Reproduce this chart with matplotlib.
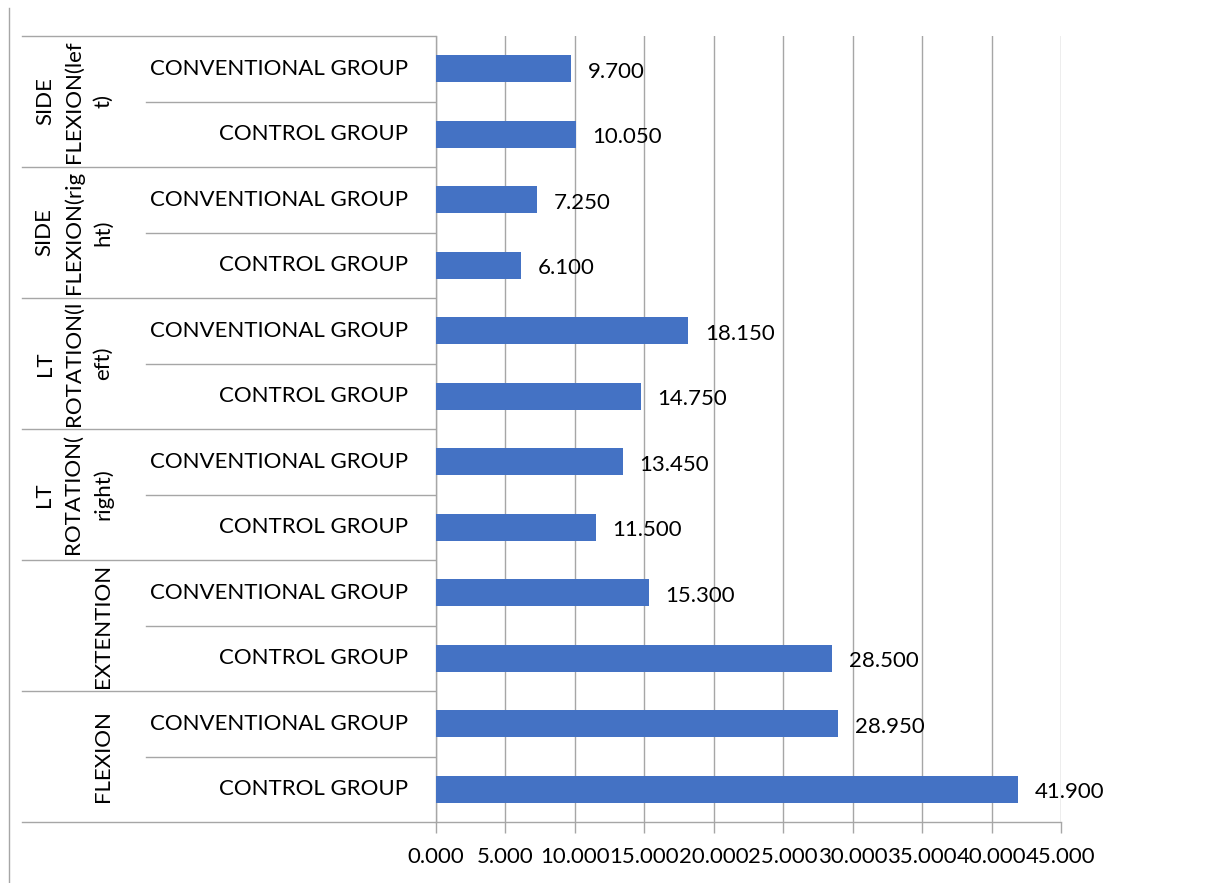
import matplotlib
matplotlib.use("Agg")
import matplotlib.pyplot as plt
from matplotlib.transforms import blended_transform_factory
from matplotlib.lines import Line2D

# ---- data (bottom to top) ----
groups = ["FLEXION", "EXTENTION", "LT\nROTATION(\nright)", "LT\nROTATION(l\neft)",
          "SIDE\nFLEXION(rig\nht)", "SIDE\nFLEXION(lef\nt)"]
subcats = ["CONTROL GROUP", "CONVENTIONAL GROUP"]
values = [41.900, 28.950, 28.500, 15.300, 11.500, 13.450,
          14.750, 18.150, 6.100, 7.250, 10.050, 9.700]
xticks = [0, 5, 10, 15, 20, 25, 30, 35, 40, 45]

FONT = "Lato"
FS = 16
W, H = 1217, 883
fig = plt.figure(figsize=(W / 100, H / 100), dpi=100)
ax = fig.add_axes([436 / W, (H - 822) / H, 625 / W, 786 / H])

n = len(values)
ypos = list(range(n))
ax.barh(ypos, values, height=0.41, color="#4472C4", zorder=3)
ax.set_ylim(-0.5, n - 0.5)
ax.set_xlim(0, 45)
ax.set_xticks(xticks)
ax.set_xticklabels([f"{t:.3f}" for t in xticks], fontfamily=FONT, fontsize=FS)
ax.set_yticks([])
gc = "#a6a6a6"
ax.grid(axis="x", color=gc, lw=1, zorder=0)
for s in ["top", "right"]:
    ax.spines[s].set_visible(False)
for s in ["left", "bottom"]:
    ax.spines[s].set_color(gc)
    ax.spines[s].set_linewidth(1)
ax.tick_params(axis="x", length=8, color=gc, width=1, pad=10)

# data labels
for y, v in zip(ypos, values):
    ax.annotate(f"{v:.3f}", (v, y), xytext=(12, -2), textcoords="offset points",
                ha="left", va="center", fontfamily=FONT, fontsize=FS, color="#000000")

# category table (x in figure pixels, y in data)
tr = blended_transform_factory(fig.transFigure, ax.transData)
def fx(px):
    return px / W

for i in range(n + 1):
    yb = i - 0.5
    x0 = 22 if i % 2 == 0 else 146
    fig.add_artist(Line2D([fx(x0), fx(435)], [yb, yb], transform=tr, color=gc, lw=1,
                          clip_on=False))
for i, y in enumerate(ypos):
    ax.text(fx(408), y, subcats[i % 2], transform=tr, ha="right", va="center",
            fontfamily=FONT, fontsize=FS, clip_on=False)
for g, name in enumerate(groups):
    yc = 2 * g + 0.5
    ax.text(fx(113), yc, name, transform=tr, ha="right", va="center", rotation=90,
            multialignment="center", fontfamily=FONT, fontsize=FS, clip_on=False,
            linespacing=1.55)

# left chart border
fig.add_artist(Line2D([fx(9), fx(9)], [1 - 8 / H, 0], transform=fig.transFigure,
                      color=gc, lw=1))

fig.savefig("out.png", dpi=100)
